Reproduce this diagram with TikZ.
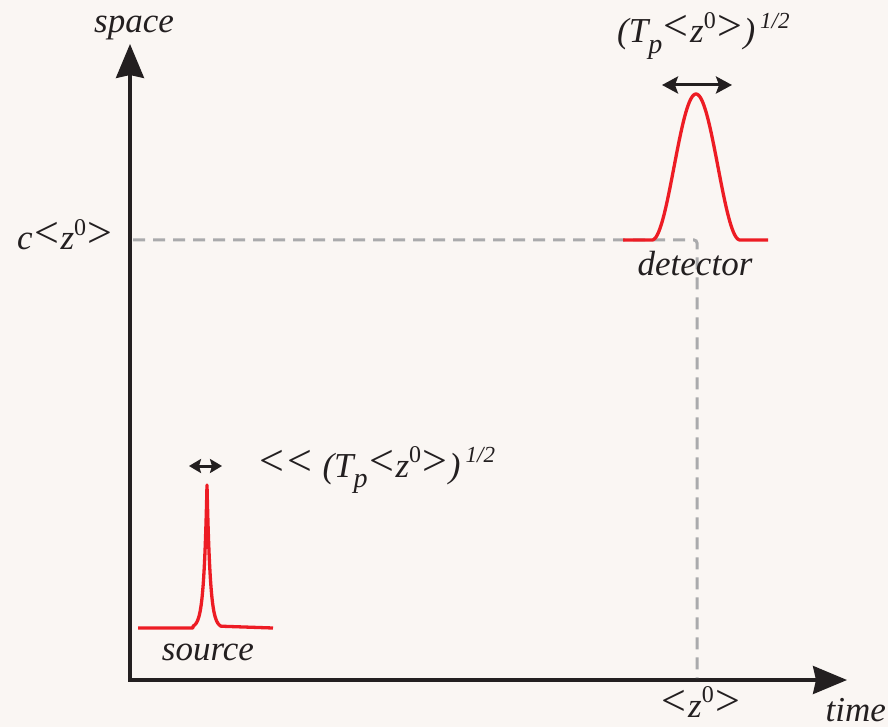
\documentclass[tikz,border=0pt]{standalone}
\usepackage{fontspec}
\setmainfont{Liberation Serif}
\usetikzlibrary{arrows.meta}
\definecolor{bg}{RGB}{250,246,243}
\definecolor{axisc}{RGB}{35,31,32}
\definecolor{pulse}{RGB}{237,28,36}
\definecolor{guide}{RGB}{170,170,172}
\newcommand\mysup[1]{\raisebox{0.42em}{\fontsize{24}{24}\selectfont #1}}
\newcommand\mysubsc[1]{\raisebox{-0.30em}{\fontsize{28}{28}\selectfont #1}}
\newcommand\myLt{\kern1.5pt\raisebox{2pt}{\fontsize{44}{44}\selectfont\upshape <}\kern1.5pt}
\newcommand\myGt{\kern1.5pt\raisebox{2pt}{\fontsize{44}{44}\selectfont\upshape >}\kern1.5pt}
\newcommand\zz{\myLt z\mysup{\upshape 0}\myGt}
\newcommand\half{\kern5pt\mysup{\fontsize{23}{23}\selectfont 1/2}}
\begin{document}
\begin{tikzpicture}[x=1pt,y=-1pt,
  lbl/.style={font=\fontsize{35}{40}\selectfont\itshape, text=axisc, inner sep=0pt},
  axisline/.style={draw=axisc, line width=3.2pt, line join=miter},
  guideline/.style={draw=guide, line width=3pt, dash pattern=on 12pt off 8pt, rounded corners=3pt},
  pulseline/.style={draw=pulse, line width=3.3pt, line join=round},
  widtharrow/.style={draw=axisc, line width=3pt}]
\fill[bg] (0,0) rectangle (888,727);
\useasboundingbox (0,0) rectangle (888,727);

% axes
\coordinate (ytip) at (130,44);
\coordinate (origin) at (130,680);
\coordinate (xtip) at (847,680);
\draw[axisline, {Stealth[length=34pt,width=28pt,inset=3pt]}-{Stealth[length=34pt,width=28pt,inset=3pt]}] (ytip) -- (origin) -- (xtip);

% guide lines
\coordinate (gy) at (133,240);
\coordinate (gc) at (697,240);
\coordinate (gx) at (697,678);
\draw[guideline] (gy) -- (gc) -- (gx);

% detector pulse
\draw[pulseline] (623,240) -- (652,240)
  -- plot[domain=-44:44, samples=89, smooth] ({696+\x},{240-146*(1+cos(\x*180/44))/2})
  -- (768,240);

% source pulse
\draw[pulseline] (138,628) -- (193,628)
  -- plot[domain=-14:14, samples=113] ({207+\x},{628-143*exp(-abs(\x)/3.2)})
  -- (273,628);

% width arrows
\coordinate (da1) at (662,85);
\coordinate (da2) at (732,85);
\draw[widtharrow, {Stealth[length=16pt,width=17pt,inset=3pt]}-{Stealth[length=16pt,width=17pt,inset=3pt]}] (da1) -- (da2);
\coordinate (sa1) at (189,466);
\coordinate (sa2) at (222,466);
\draw[widtharrow, {Stealth[length=12pt,width=14pt,inset=2pt]}-{Stealth[length=12pt,width=14pt,inset=2pt]}] (sa1) -- (sa2);

% labels
\node[lbl, anchor=base] (space) at (134,33) {space};
\node[lbl, anchor=base east] (time) at (886,721) {time};
\node[lbl, anchor=base west] (cz) at (17,250) {c\zz};
\node[lbl, anchor=base] (z0) at (701,717) {\zz};
\node[lbl, anchor=base] (det) at (695,275) {detector};
\node[lbl, anchor=base] (src) at (208,660) {source};
\node[lbl, anchor=base west] (dw) at (617,43) {(T\mysubsc{p}\zz)\half};
\node[lbl, anchor=base west] (sw) at (258,477) {\myLt\myLt{} (T\mysubsc{p}\zz)\half};
\end{tikzpicture}
\end{document}
